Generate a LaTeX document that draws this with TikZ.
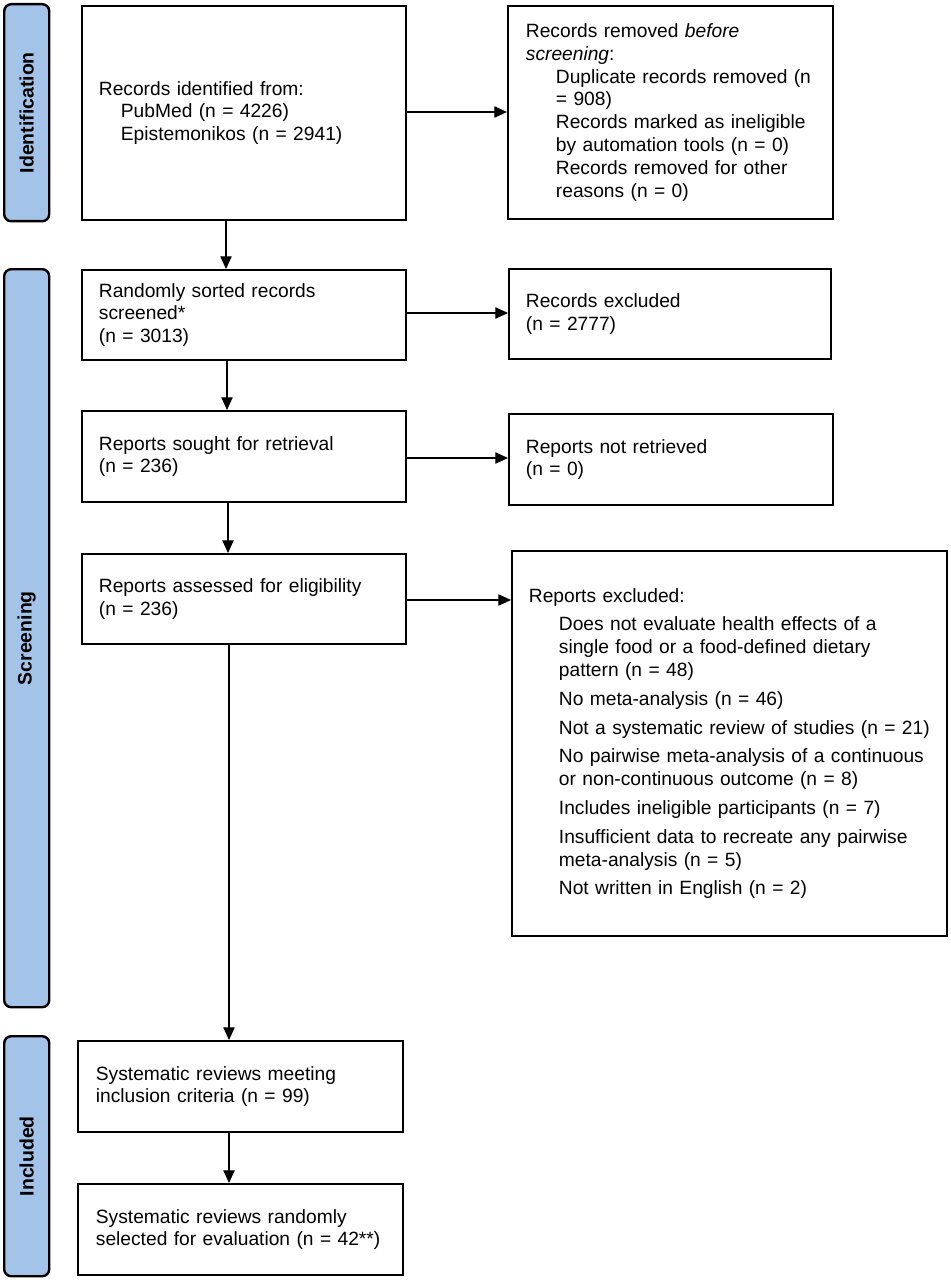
\documentclass[tikz,border=0pt]{standalone}
\usepackage{fontspec}
\setmainfont{Liberation Sans}
\usetikzlibrary{arrows.meta}
\newdimen\pxu \pxu=0.75pt
\definecolor{barblue}{RGB}{163,196,232}
\newcommand{\ind}[1]{\hspace*{#1\pxu}}
\newcommand{\tl}[1]{\mbox{#1}}
\newcommand{\il}[1]{\mbox{\hspace*{30\pxu}#1}}
\begin{document}
\begin{tikzpicture}[x=0.75pt,y=-0.75pt,
  box/.style={draw, line width=1.4pt, anchor=north west, align=left,
    inner xsep=17\pxu, inner ysep=0pt, font=\fontsize{14.4}{17.1}\selectfont},
  bar/.style={draw, line width=1.8pt, fill=barblue, rounded corners=7\pxu,
    anchor=north west, inner sep=0pt, minimum width=45\pxu,
    font=\fontsize{14.6}{17}\selectfont\bfseries},
  arr/.style={-{Triangle[length=9.5pt,width=8.5pt]}, line width=0.8pt}]
\useasboundingbox (0,0) rectangle (950,1280);

% side bars
\node[bar, minimum height=217\pxu] (sid) at (3,3) {\rotatebox{90}{Identification}};
\node[bar, minimum height=738\pxu] (ssc) at (3,268) {\rotatebox{90}{Screening}};
\node[bar, minimum height=240\pxu] (sin) at (3,1035) {\rotatebox{90}{Included}};

% left column
\node[box, minimum width=324\pxu, minimum height=214\pxu, text width=290\pxu] (b1) at (81,5)
  {\tl{Records identified from:}\\\mbox{\ind{22}PubMed (n = 4226)}\\\mbox{\ind{22}Epistemonikos (n = 2941)}};
\node[box, minimum width=324\pxu, minimum height=90\pxu, text width=290\pxu] (b2) at (81,269)
  {\tl{Randomly sorted records}\\\tl{screened*}\\\tl{(n = 3013)}};
\node[box, minimum width=324\pxu, minimum height=91\pxu, text width=290\pxu] (b3) at (81,410)
  {\tl{Reports sought for retrieval}\\\tl{(n = 236)}};
\node[box, minimum width=324\pxu, minimum height=90\pxu, text width=290\pxu] (b4) at (81,553)
  {\tl{Reports assessed for eligibility}\\\tl{(n = 236)}};
\node[box, minimum width=325\pxu, minimum height=91\pxu, text width=289\pxu, inner xsep=18\pxu] (b5) at (77,1040)
  {\tl{Systematic reviews meeting}\\\tl{inclusion criteria (n = 99)}};
\node[box, minimum width=325\pxu, minimum height=91\pxu, text width=289\pxu, inner xsep=18\pxu] (b6) at (77,1183)
  {\tl{Systematic reviews randomly}\\\tl{selected for evaluation (n = 42**)}};

% right column
\node[box, minimum width=325\pxu, minimum height=213\pxu, text width=289\pxu, inner xsep=18\pxu] (r1) at (507,5)
  {\tl{Records removed \textit{before}}\\\tl{\textit{screening}:}\\
   \il{Duplicate records removed (n}\\\il{= 908)}\\
   \il{Records marked as ineligible}\\\il{by automation tools (n = 0)}\\
   \il{Records removed for other}\\\il{reasons (n = 0)}};
\node[box, minimum width=322\pxu, minimum height=90\pxu, text width=288\pxu] (r2) at (508,268)
  {\tl{Records excluded}\\\tl{(n = 2777)}};
\node[box, minimum width=324\pxu, minimum height=91\pxu, text width=290\pxu] (r3) at (508,413)
  {\tl{Reports not retrieved}\\\tl{(n = 0)}};
\node[box, minimum width=435\pxu, minimum height=385\pxu, text width=401\pxu] (r4) at (511,550)
  {\tl{Reports excluded:}\\[6\pxu]
   \il{Does not evaluate health effects of a}\\\il{single food or a food-defined dietary}\\\il{pattern (n = 48)}\\[6\pxu]
   \il{No meta-analysis (n = 46)}\\[6\pxu]
   \il{Not a systematic review of studies (n = 21)}\\[6\pxu]
   \il{No pairwise meta-analysis of a continuous}\\\il{or non-continuous outcome (n = 8)}\\[6\pxu]
   \il{Includes ineligible participants (n = 7)}\\[6\pxu]
   \il{Insufficient data to recreate any pairwise}\\\il{meta-analysis (n = 5)}\\[6\pxu]
   \il{Not written in English (n = 2)}};

% vertical arrows
\draw[arr] (b1.south -| 226,0) -- (b2.north -| 226,0);
\draw[arr] (b2.south -| 227,0) -- (b3.north -| 227,0);
\draw[arr] (b3.south -| 228,0) -- (b4.north -| 228,0);
\draw[arr] (b4.south -| 229,0) -- (b5.north -| 229,0);
\draw[arr] (b5.south -| 229,0) -- (b6.north -| 229,0);

% horizontal arrows
\draw[arr] (b1.east |- 0,112) -- (r1.west |- 0,112);
\draw[arr] (b2.east |- 0,313) -- (r2.west |- 0,313);
\draw[arr] (b3.east |- 0,458) -- (r3.west |- 0,458);
\draw[arr] (b4.east |- 0,600) -- (r4.west |- 0,600);
\end{tikzpicture}
\end{document}
